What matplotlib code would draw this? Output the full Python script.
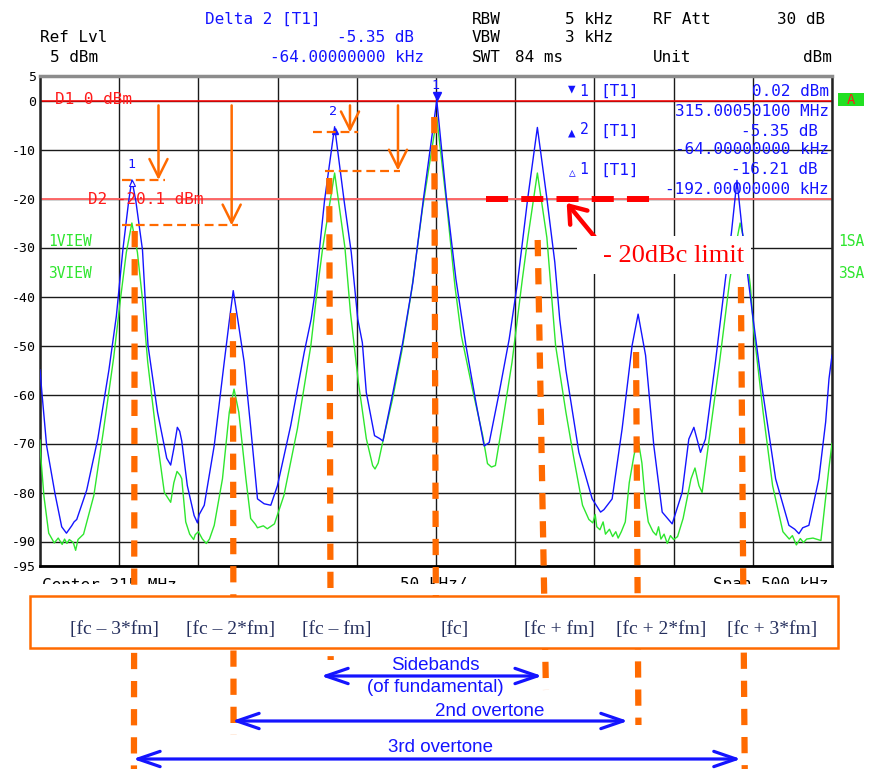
import numpy as np
import matplotlib
matplotlib.use('Agg')
import matplotlib.pyplot as plt
import matplotlib.transforms as mtransforms
from matplotlib.patches import Rectangle, FancyArrowPatch
from matplotlib.lines import Line2D

W, H = 871, 769
MONO = ['DejaVu Sans Mono', 'DejaVu Sans']
SERIF = 'Liberation Serif'
SANS = 'Liberation Sans'
ORANGE = '#ff6a00'
BLUE = '#1414ff'
GREEN = '#2ee62e'
RED = '#ff1a1a'

# spectrum traces: offset from 315 MHz centre (kHz), level (dBm)
view1_trace = [
    (-250.0, -55.0), (-248.7, -60.0), (-245.8, -70.5), (-240.5, -80.3), (-236.3, -87.0),
    (-233.3, -88.3), (-230.0, -86.8), (-228.5, -86.0), (-226.8, -85.5), (-220.5, -79.5),
    (-213.5, -69.0), (-206.5, -55.0), (-201.8, -44.0), (-197.7, -30.5), (-194.0, -20.5),
    (-192.0, -16.2), (-189.5, -20.5), (-185.3, -30.5), (-183.0, -44.0), (-181.8, -50.0),
    (-175.8, -63.6), (-170.0, -73.0), (-167.5, -74.4), (-165.5, -71.0), (-163.3, -66.7),
    (-161.8, -67.5), (-160.5, -69.5), (-157.0, -78.6), (-152.7, -84.7), (-150.6, -86.2),
    (-149.5, -84.5), (-146.3, -82.6), (-140.0, -70.4), (-133.7, -53.4), (-130.5, -45.0),
    (-128.0, -38.8), (-125.0, -45.0), (-121.1, -53.4), (-116.9, -67.0), (-112.7, -81.3),
    (-108.5, -82.3), (-104.3, -82.6), (-100.1, -78.6), (-91.7, -66.3), (-83.2, -51.4),
    (-78.8, -44.6), (-76.5, -39.5), (-70.4, -20.5), (-64.0, -5.35), (-58.0, -20.5),
    (-53.5, -31.0), (-49.4, -44.6), (-46.5, -49.4), (-44.0, -59.6), (-38.8, -68.4),
    (-35.5, -69.0), (-33.5, -69.5), (-27.2, -59.6), (-21.0, -49.4), (-14.6, -37.1),
    (-7.9, -20.0), (0.5, 0.02), (6.6, -20.0), (12.6, -36.5), (18.9, -50.0),
    (25.2, -61.6), (30.4, -70.5), (33.6, -69.8), (39.9, -59.6), (46.2, -48.7),
    (51.5, -37.1), (57.9, -20.0), (64.0, -5.5), (70.0, -20.0), (75.0, -33.0),
    (78.1, -44.6), (82.0, -55.0), (90.2, -71.8), (98.6, -81.3), (103.9, -84.0),
    (106.0, -83.5), (111.2, -81.3), (117.5, -67.0), (123.8, -50.0), (127.6, -43.6),
    (132.3, -52.0), (137.5, -70.4), (142.8, -84.0), (149.1, -86.4), (155.4, -80.0),
    (159.6, -69.1), (162.8, -66.7), (167.0, -71.8), (170.1, -69.1), (176.4, -53.4),
    (182.7, -36.5), (186.5, -27.0), (190.0, -16.3), (193.5, -27.0), (199.7, -43.3),
    (206.0, -58.9), (214.4, -77.2), (222.8, -86.7), (226.5, -87.5), (229.1, -88.4),
    (231.5, -87.2), (235.4, -86.7), (241.7, -77.2), (246.0, -65.6), (248.1, -56.8),
    (250.0, -52.0),
]
view3_trace = [
    (-250.0, -69.3), (-249.5, -72.7), (-247.5, -80.8), (-244.5, -88.3), (-241.0, -90.3),
    (-238.5, -89.3), (-236.0, -90.6), (-234.5, -89.5), (-233.0, -90.4), (-231.5, -89.6),
    (-229.0, -90.2), (-227.5, -91.8), (-226.0, -89.6), (-222.5, -88.5), (-216.0, -80.6),
    (-210.0, -67.5), (-203.5, -52.5), (-199.0, -40.0), (-195.5, -31.0), (-192.0, -25.0),
    (-188.5, -31.0), (-185.5, -40.0), (-182.0, -53.4), (-177.0, -67.0), (-171.5, -80.0),
    (-167.5, -82.0), (-165.5, -78.0), (-163.5, -75.7), (-161.5, -76.5), (-160.5, -77.2),
    (-158.0, -86.0), (-155.5, -88.5), (-153.0, -89.6), (-152.0, -88.6), (-150.0, -88.0),
    (-147.5, -89.5), (-145.0, -90.4), (-143.0, -89.5), (-140.0, -86.7), (-134.8, -77.2),
    (-130.5, -63.6), (-127.5, -58.9), (-124.5, -63.6), (-120.0, -77.2), (-117.0, -85.3),
    (-114.0, -86.5), (-112.7, -87.2), (-109.0, -86.8), (-106.5, -87.4), (-102.0, -86.4),
    (-96.0, -80.6), (-87.5, -67.0), (-79.0, -50.0), (-75.5, -40.0), (-71.5, -30.0),
    (-64.0, -14.8), (-57.5, -30.0), (-54.0, -43.3), (-49.0, -57.5), (-44.0, -69.0),
    (-40.0, -74.5), (-38.5, -75.2), (-36.5, -74.0), (-33.5, -69.5), (-27.5, -61.0),
    (-21.5, -51.0), (-15.5, -39.0), (-8.5, -22.0), (0.5, -3.5), (7.0, -22.0),
    (12.0, -38.0), (16.0, -48.0), (23.0, -58.9), (29.5, -68.4), (32.5, -74.1),
    (35.0, -74.8), (37.5, -74.5), (42.0, -65.7), (48.0, -53.4), (54.5, -36.5),
    (58.0, -28.0), (64.0, -14.8), (70.0, -28.0), (75.5, -50.0), (82.0, -63.6),
    (87.0, -73.0), (92.5, -82.6), (96.5, -85.5), (99.0, -86.2), (100.5, -84.5),
    (101.5, -87.0), (103.5, -87.6), (105.5, -86.0), (107.0, -88.5), (109.5, -87.5),
    (111.5, -89.0), (113.5, -88.0), (115.0, -89.3), (117.0, -88.0), (119.5, -86.0),
    (122.0, -78.0), (125.0, -72.4), (127.5, -69.0), (130.0, -74.0), (132.0, -81.3),
    (134.0, -86.0), (137.0, -88.0), (139.0, -88.7), (140.5, -87.0), (142.0, -89.5),
    (144.0, -88.5), (146.0, -90.4), (148.0, -88.8), (150.0, -89.6), (152.5, -89.0),
    (156.0, -85.3), (161.0, -77.2), (163.5, -75.0), (166.0, -78.6), (168.0, -80.0),
    (172.5, -69.0), (179.0, -53.4), (185.5, -36.5), (189.0, -30.0), (192.0, -25.0),
    (195.5, -30.0), (198.5, -38.0), (200.5, -46.7), (206.5, -63.6), (212.5, -78.6),
    (219.0, -88.0), (223.0, -89.5), (225.0, -88.8), (227.5, -90.7), (230.0, -89.4),
    (232.0, -90.2), (234.0, -89.5), (238.0, -89.3), (243.0, -89.8), (245.0, -84.0),
    (248.0, -75.2), (250.0, -70.0),
]

ytick_vals = [5, 0, -10, -20, -30, -40, -50, -60, -70, -80, -90, -95]
harmonic_labels = ['[fc – 3*fm]', '[fc – 2*fm]', '[fc – fm]', '[fc]',
                   '[fc + fm]', '[fc + 2*fm]', '[fc + 3*fm]']

# marker readings
m1_khz, m1_dbm = 0.5, 0.02
m2_khz, m2_db = -64.0, -5.35
dl1_khz, dl1_db = -192.0, -16.21
d1_level, d2_level = 0.0, -20.1
limit_level = -20.2

# measured levels marked with orange arrows (dBm)
arrow_levels = [-16.2, -25.5, -6.5, -14.3]
arrow_x = [-175.2, -129.0, -54.3, -24.0]
arrow_spans = [(-198.2, -171.1), (-198.2, -125.0), (-77.7, -49.2), (-70.1, -22.7)]

fig = plt.figure(figsize=(W / 100, H / 100), dpi=100)
fig.patch.set_facecolor('white')
ax = fig.add_axes([40 / W, 1 - 566 / H, 792 / W, 490 / H])


def fy(y):
    return 1 - y / H


def ftext(x, y, s, color='black', size=11.5, ha='left', family=MONO, **kw):
    return fig.text(x / W, fy(y), s, color=color, fontsize=size, ha=ha, va='center',
                    family=family, **kw)


v1 = np.array(view1_trace)
v3 = np.array(view3_trace)
ax.plot(v3[:, 0], v3[:, 1], color=GREEN, lw=1.0, zorder=3)
ax.plot(v1[:, 0], v1[:, 1], color=BLUE, lw=1.0, zorder=4)

ax.set_xlim(-250, 250)
ax.set_ylim(-95, 5)
ax.set_xticks(np.arange(-250, 251, 50))
ax.set_yticks(ytick_vals)
ax.set_yticklabels([str(v) for v in ytick_vals], family=MONO, fontsize=9.5)
ax.tick_params(axis='x', length=0, labelbottom=False)
ax.tick_params(axis='y', length=0, pad=3)
ax.grid(True, color='#1a1a1a', lw=1.0, zorder=1)
ax.set_axisbelow(True)
ax.spines['top'].set_color('#8c8c8c')
ax.spines['top'].set_linewidth(2.5)
ax.spines['bottom'].set_linewidth(2.0)
for s in ('left', 'right'):
    ax.spines[s].set_linewidth(1.8)
    ax.spines[s].set_color('#222222')

ax.axhline(d1_level, color='#ff0000', lw=1.1, zorder=2)
ax.axhline(d2_level, color='#ff6a6a', lw=1.4, zorder=2)

# trace markers
up = lambda px: ax.transData + mtransforms.ScaledTranslation(0, px / 100, fig.dpi_scale_trans)
ax.plot(m1_khz, m1_dbm, marker='v', ms=6, color=BLUE, transform=up(4), zorder=6)
ax.plot(m2_khz, m2_db + m1_dbm, marker='^', ms=5, color=BLUE, transform=up(-4), zorder=6)
ax.plot(dl1_khz, dl1_db + m1_dbm, marker='^', ms=5, mfc='white', mec=BLUE, mew=0.8,
        transform=up(-3), zorder=6)
for xk, yk, lab, dx in [(m1_khz, m1_dbm, '1', -1), (m2_khz, m2_db + m1_dbm, '2', -2),
                        (dl1_khz, dl1_db + m1_dbm, '1', 0)]:
    ax.annotate(lab, (xk, yk), xytext=(dx, 15), textcoords='offset pixels', ha='center',
                va='center', color=BLUE, fontsize=9.5, family=MONO, zorder=6,
                annotation_clip=False)

# orange level lines and arrows
for lvl, (x0, x1) in zip(arrow_levels, arrow_spans):
    ax.plot([x0, x1], [lvl, lvl], color=ORANGE, lw=1.6, dashes=(4.0, 2.2), zorder=7)
for xa, lvl in zip(arrow_x, arrow_levels):
    ax.annotate('', xy=(xa, lvl), xytext=(xa, -1.0),
                arrowprops=dict(arrowstyle='->,head_length=1.3,head_width=0.65',
                                color=ORANGE, lw=1.8, shrinkA=0, shrinkB=0), zorder=7)

# -20 dBc limit
ax.plot([31.6, 135.1], [limit_level, limit_level], color='#ff0000', lw=4.3,
        dashes=(3.7, 2.2), zorder=7)
ax.annotate('', xy=(82.5, -20.9), xytext=(112, -32.5),
            arrowprops=dict(arrowstyle='->,head_length=1.1,head_width=0.8',
                            color='#ff0000', lw=3.2, shrinkA=0, shrinkB=0), zorder=7)

# header
ftext(205, 19, 'Delta 2 [T1]', color=BLUE)
ftext(40, 38, 'Ref Lvl')
ftext(414, 38, '-5.35 dB', color=BLUE, ha='right')
ftext(50, 57, '5 dBm')
ftext(424, 57, '-64.00000000 kHz', color=BLUE, ha='right')
ftext(472, 19, 'RBW')
ftext(613, 19, '5 kHz', ha='right')
ftext(653, 19, 'RF Att')
ftext(825, 19, '30 dB', ha='right')
ftext(472, 38, 'VBW')
ftext(613, 38, '3 kHz', ha='right')
ftext(472, 57, 'SWT')
ftext(515, 57, '84 ms')
ftext(653, 57, 'Unit')
ftext(832, 57, 'dBm', ha='right')

# marker readout
ftext(572, 89, '▼', color=BLUE, size=9, ha='center')
ftext(584, 92, '1', color=BLUE, size=10.5, ha='center')
ftext(572, 133, '▲', color=BLUE, size=9, ha='center')
ftext(584, 129, '2', color=BLUE, size=10.5, ha='center')
ftext(572, 173, '△', color=BLUE, size=8, ha='center')
ftext(584, 170, '1', color=BLUE, size=10.5, ha='center')
for yy in (91, 131, 170):
    ftext(600, yy, '[T1]', color=BLUE)
ftext(829, 91, '0.02 dBm', color=BLUE, ha='right')
ftext(829, 111, '315.00050100 MHz', color=BLUE, ha='right')
ftext(818, 131, '-5.35 dB', color=BLUE, ha='right')
ftext(829, 150, '-64.00000000 kHz', color=BLUE, ha='right')
ftext(818, 170, '-16.21 dB', color=BLUE, ha='right')
ftext(829, 189, '-192.00000000 kHz', color=BLUE, ha='right')

# display line / trace labels
ftext(55, 100, 'D1 0 dBm', color=RED)
ftext(88, 199, 'D2 -20.1 dBm', color=RED)
ftext(48, 242, '1VIEW', color=GREEN, size=10.5)
ftext(48, 273, '3VIEW', color=GREEN, size=10.5)
ftext(838, 242, '1SA', color=GREEN, size=10.5)
ftext(838, 273, '3SA', color=GREEN, size=10.5)
fig.add_artist(Rectangle((838 / W, fy(106)), 26 / W, 13 / H, transform=fig.transFigure,
                         facecolor='#22e022', edgecolor='none', zorder=3))
ftext(851, 99.5, 'A', color=RED, size=10, ha='center', zorder=4)

# limit label box
fig.add_artist(Rectangle((577 / W, fy(274)), 174 / W, 38 / H, transform=fig.transFigure,
                         facecolor='white', edgecolor='none', zorder=3))
ftext(674, 256, '- 20dBc limit', color='#ff0000', size=19, ha='center', family=SERIF,
      zorder=4)

# bottom axis text, partly covered
ftext(42, 585, 'Center 315 MHz', zorder=1)
ftext(400, 585, '50 kHz/', zorder=1)
ftext(828, 585, 'Span 500 kHz', ha='right', zorder=1)
fig.add_artist(Rectangle((0, fy(596)), 1, 12 / H, transform=fig.transFigure,
                         facecolor='white', edgecolor='none', zorder=1.5))

# thick dashed harmonic markers (x in kHz, y in figure pixels)
blend = mtransforms.blended_transform_factory(ax.transData, fig.transFigure)
dash_top_khz = [-190.2, -128.2, -67.4, -1.1, 64.2, 126.3, 192.5]
dash_bot_khz = [-190.7, -127.8, -66.5, -0.1, 69.4, 127.8, 194.9]
dash_top_px = [231, 313, 178, 117, 240, 352, 287]
dash_bot_px = [769, 735, 660, 600, 690, 725, 769]
for xt, xb, yt, yb in zip(dash_top_khz, dash_bot_khz, dash_top_px, dash_bot_px):
    ln = Line2D([xt, xb], [fy(yt), fy(yb)], transform=blend, color=ORANGE, lw=4.5,
                dashes=(2.6, 1.9), dash_capstyle='butt', zorder=2)
    fig.add_artist(ln)

# harmonic label box
fig.add_artist(Rectangle((30 / W, fy(648)), 808 / W, 52 / H, transform=fig.transFigure,
                         facecolor='white', edgecolor=ORANGE, lw=1.8, zorder=3))
for xc, lab in zip([114, 231, 336.5, 454.5, 559, 661, 772.5], harmonic_labels):
    ftext(xc, 629.5, lab, color='#26305e', size=14, ha='center', family=SERIF, zorder=4)

# blue span arrows
for (x0, x1), yy in zip([(-72.6, 67.0), (-128.8, 121.2), (-191.3, 192.5)], [676, 721, 759]):
    fig.add_artist(FancyArrowPatch((x0, fy(yy)), (x1, fy(yy)), transform=blend,
                                   arrowstyle='<->,head_length=1.6,head_width=0.55',
                                   mutation_scale=10, color=BLUE, lw=2.3,
                                   shrinkA=0, shrinkB=0, zorder=4))
ftext(435, 665, 'Sidebands', color=BLUE, size=13.5, ha='center', family=SANS)
ftext(435, 688, '(of fundamental)', color=BLUE, size=13.5, ha='center', family=SANS)
ftext(490, 712, '2nd overtone', color=BLUE, size=13.5, ha='center', family=SANS)
ftext(440, 748, '3rd overtone', color=BLUE, size=13.5, ha='center', family=SANS)

fig.savefig('out.png', dpi=100)
